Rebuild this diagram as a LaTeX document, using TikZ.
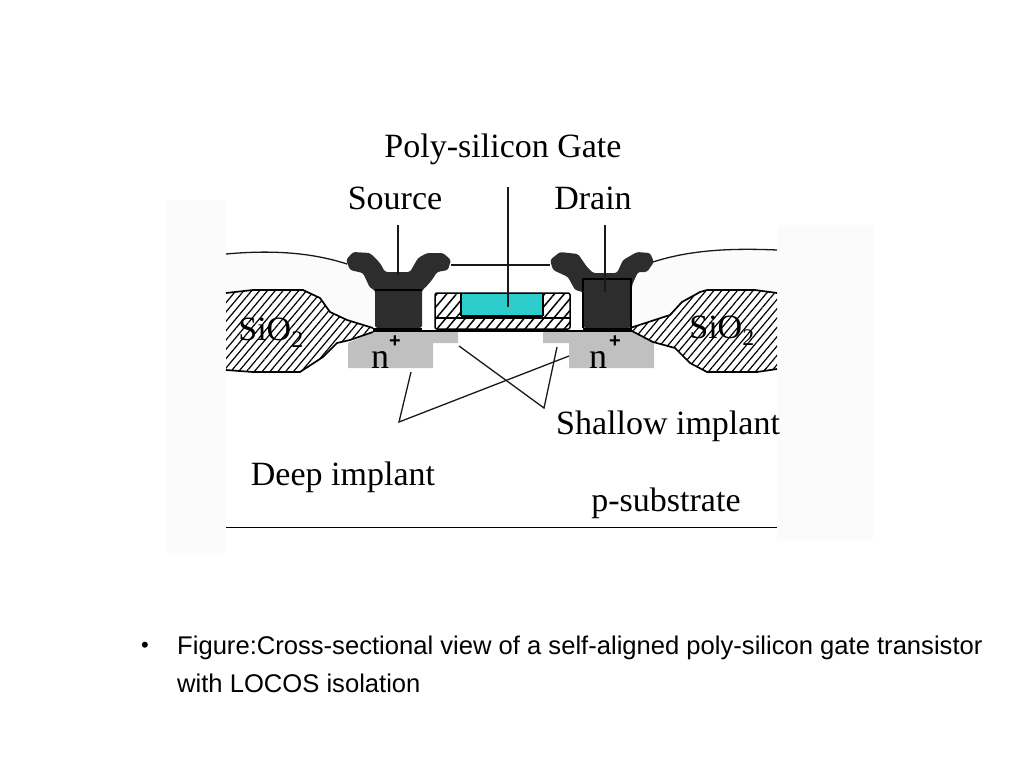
\documentclass[tikz,border=0pt]{standalone}
\usepackage{fontspec}
\setmainfont{Liberation Serif}
\newfontfamily\capfont{Liberation Sans}
\usetikzlibrary{patterns.meta}
\definecolor{cPANEL}{HTML}{FBFBFB}
\definecolor{cMETAL}{HTML}{2D2D2D}
\definecolor{cIMPLANT}{HTML}{C0C0C0}
\definecolor{cPOLY}{HTML}{2DCDCD}
\tikzset{
  panel/.style={fill=cPANEL, draw=none},
  oxide/.style={pattern={Lines[angle=50,distance=6pt,line width=1.2pt]}},
  gatehatch/.style={pattern={Lines[angle=50,distance=7.5pt,line width=1.5pt]}},
  oxideedge/.style={line width=1.7pt, line join=round},
  implant/.style={fill=cIMPLANT, draw=none},
  contact/.style={fill=cMETAL, draw=none, rounded corners=2.5pt},
  leader/.style={line width=1.3pt, draw=black!90},
  label/.style={inner sep=0pt, anchor=base, font=\fontsize{#1}{#1}\selectfont},
  label/.default=34
}
\begin{document}
\begin{tikzpicture}[x=1pt,y=-1pt]
  \useasboundingbox (0,0) rectangle (1024,768);

  % faint backing panels
  \fill[panel] (166,200) rectangle (226,553);
  \fill[panel] (777,225) rectangle (873,540);
  \fill[panel] (226,254) .. controls (270,250) and (310,252) .. (350,266) -- (375,290) -- (375,330)
    -- (226,330) -- cycle;
  \fill[panel] (777,250) .. controls (730,248) and (690,250) .. (653,262) -- (632,285) -- (632,330)
    -- (777,330) -- cycle;

  % implants
  \fill[implant] (373,332) -- (458,332) -- (458,343) -- (433,343) -- (433,368) -- (348,368)
    -- (348,343) -- cycle;
  \fill[implant] (543,332) -- (632,332) -- (654,343) -- (654,368) -- (569,368) -- (569,343)
    -- (543,343) -- cycle;

  % LOCOS oxide
  \fill[white] (226,293) -- (253,290) -- (303,290) -- (320,298) -- (330,312) -- (347,320)
    -- (373,328) -- (373,332) -- (350,340) -- (337,343) -- (323,357) -- (303,370)
    -- (300,372) -- (253,372) -- (226,370) -- cycle;
  \fill[white] (777,293) -- (755,290) -- (707,290) -- (700,292) -- (682,302) -- (670,315)
    -- (630,328) -- (630,330) -- (653,342) -- (675,348) -- (690,363) -- (707,372)
    -- (757,372) -- (777,369) -- cycle;
  \fill[oxide] (226,293) -- (253,290) -- (303,290) -- (320,298) -- (330,312) -- (347,320)
    -- (373,328) -- (373,332) -- (350,340) -- (337,343) -- (323,357) -- (303,370)
    -- (300,372) -- (253,372) -- (226,370) -- cycle;
  \fill[oxide] (777,293) -- (755,290) -- (707,290) -- (700,292) -- (682,302) -- (670,315)
    -- (630,328) -- (630,330) -- (653,342) -- (675,348) -- (690,363) -- (707,372)
    -- (757,372) -- (777,369) -- cycle;
  \draw[oxideedge] (226,293) -- (253,290) -- (303,290) -- (320,298) -- (330,312) -- (347,320) -- (373,328);
  \draw[oxideedge] (373,332) -- (350,340) -- (337,343) -- (323,357) -- (303,370) -- (300,372) -- (253,372) -- (226,370);
  \draw[oxideedge] (777,293) -- (755,290) -- (707,290) -- (700,292) -- (682,302) -- (670,315) -- (630,328);
  \draw[oxideedge] (630,330) -- (653,342) -- (675,348) -- (690,363) -- (707,372) -- (757,372) -- (777,369);

  % surface line
  \draw[leader] (226,254) .. controls (270,250) and (310,252) .. (347,264);
  \draw[leader] (451,265) -- (550,265);
  \draw[leader] (653,262) .. controls (690,250) and (730,248) .. (777,250);

  % gate stack
  \fill[gatehatch] (435,293) rectangle (570,328);
  \fill[cPOLY] (461,293) rectangle (543,315);
  \draw[line width=1.5pt, rounded corners=2pt] (435,293) rectangle (570,329);
  \draw[line width=1.5pt] (461,293) -- (461,316);
  \draw[line width=1.5pt] (543,293) -- (543,316);
  \draw[line width=3.5pt] (461,316.5) -- (543,316.5);
  \draw[line width=1.5pt] (435,318) -- (570,318);

  % source and drain metal
  \fill[contact] (346,260) -- (353,252) -- (370,253) -- (380,263) -- (385,272) -- (410,272)
    -- (418,258) -- (427,253) -- (443,253) -- (451,260) -- (448,270) -- (437,272)
    -- (432,280) -- (425,288) -- (422,290) -- (422,328) -- (375,328) -- (375,290)
    -- (370,288) -- (363,273) -- (350,270) -- cycle;
  \fill[contact] (550,260) -- (560,252) -- (578,254) -- (587,267) -- (593,273) -- (617,273)
    -- (623,260) -- (637,252) -- (650,253) -- (654,262) -- (647,272) -- (638,272)
    -- (632,285) -- (631,328) -- (583,328) -- (583,292) -- (575,290) -- (568,277)
    -- (553,270) -- cycle;
  \draw[line width=1.5pt] (375,290) -- (422,290);
  \draw[line width=1.3pt] (583,328) -- (583,279) -- (631,279) -- (631,328);

  % channel line under the gate
  \draw[line width=4pt] (373,330) -- (422,330);
  \draw[line width=4pt] (583,330) -- (632,330);
  \draw[line width=2.4pt] (422,331) -- (583,331);
  \draw[line width=1.5pt] (226,527.5) -- (777,527.5);

  % labels
  \node[label] (gatelbl) at (503,157) {Poly-silicon Gate};
  \node[label] (srclbl) at (395,209) {Source};
  \node[label] (drnlbl) at (593,209) {Drain};
  \node[label] (shalbl) at (668,434) {Shallow implant};
  \node[label] (deeplbl) at (343,485) {Deep implant};
  \node[label] (sublbl) at (666,511) {p-substrate};
  \node[label] (oxleft) at (271,340) {SiO\textsubscript{2}};
  \node[label] (oxright) at (722,338) {SiO\textsubscript{2}};
  \node[label=36] (nleft) at (380,368) {n};
  \node[label=36] (nright) at (598,368) {n};
  \node[label=22, font=\capfont\bfseries\fontsize{20}{20}\selectfont] (pleft) at (395,347) {+};
  \node[label=22, font=\capfont\bfseries\fontsize{20}{20}\selectfont] (pright) at (615,347) {+};

  % leaders
  \coordinate (srcend) at (398,275);
  \coordinate (gateend) at (508,307);
  \coordinate (drnend) at (605,292);
  \coordinate (deepa) at (411,372);
  \coordinate (deepb) at (569,356);
  \coordinate (deepk) at (399,422);
  \coordinate (shaa) at (459,346);
  \coordinate (shab) at (557,347);
  \coordinate (shak) at (544,408);
  \draw[leader] (398,225) -- (srcend);
  \draw[leader] (508,187) -- (gateend);
  \draw[leader] (605,225) -- (drnend);
  \draw[leader] (deepa) -- (deepk) -- (deepb);
  \draw[leader] (shaa) -- (shak) -- (shab);

  % caption
  \node[inner sep=0pt, anchor=base, font=\capfont\fontsize{22}{22}\selectfont] (bullet) at (145,652) {•};
  \node[inner sep=0pt, anchor=north west, align=left, font=\capfont\fontsize{25.6}{38}\selectfont] (caption) at (177,636)
    {Figure:Cross-sectional view of a self-aligned poly-silicon gate transistor\\with LOCOS isolation};
\end{tikzpicture}
\end{document}
